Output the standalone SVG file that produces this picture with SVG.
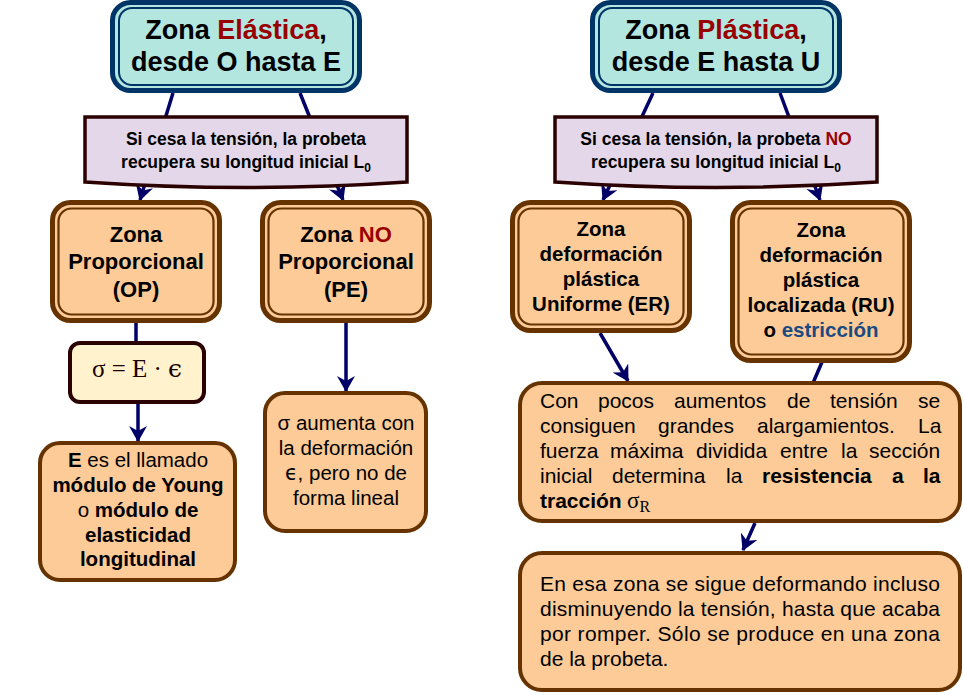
<svg xmlns="http://www.w3.org/2000/svg" width="963" height="695" viewBox="0 0 963 695">
<defs>
<style>
.t{font-family:"Liberation Sans",Arial,"DejaVu Sans",sans-serif;fill:#000}
.b{font-weight:bold}
.c{text-anchor:middle}
.red{fill:#990000}
.blu{fill:#1a4a80}
.ser{font-family:"Liberation Serif","DejaVu Serif",serif}
.eps{font-family:"DejaVu Sans",sans-serif}
.epss{font-family:"DejaVu Serif",serif}
.teal{fill:#b4e6e0;stroke:#003366;stroke-width:5}
.tealin{fill:none;stroke:#003366;stroke-width:2}
.ban{fill:#e4d7e9;stroke:#2a0000;stroke-width:3.5}
.or{fill:#fccb98;stroke:#663300;stroke-width:5}
.orin{fill:none;stroke:#663300;stroke-width:2.2}
.orb{fill:#fccb98;stroke:#663300;stroke-width:4}
.form{fill:#fff2cc;stroke:#2a0000;stroke-width:4}
.ln{stroke:#000066;stroke-width:3.5;fill:none}
</style>
<marker id="ah" markerUnits="userSpaceOnUse" markerWidth="16" markerHeight="18" viewBox="0 0 16 18" refX="15" refY="9" orient="auto">
<path d="M0,0 L16,9 L0,18 L5,9 Z" fill="#000066"/>
</marker>
</defs>

<g id="connectors">
<line class="ln" x1="173" y1="93" x2="140" y2="200" marker-end="url(#ah)"/>
<line class="ln" x1="300" y1="93" x2="343" y2="200" marker-end="url(#ah)"/>
<line class="ln" x1="653" y1="93" x2="603" y2="200" marker-end="url(#ah)"/>
<line class="ln" x1="780" y1="93" x2="820" y2="200" marker-end="url(#ah)"/>
<line class="ln" x1="136" y1="323" x2="136" y2="342"/>
<line class="ln" x1="138" y1="403" x2="138" y2="441" marker-end="url(#ah)"/>
<line class="ln" x1="346" y1="323" x2="346" y2="391" marker-end="url(#ah)"/>
<line class="ln" x1="600" y1="333" x2="628" y2="381" marker-end="url(#ah)"/>
<line class="ln" x1="822" y1="362" x2="810" y2="390"/>
<line class="ln" x1="755" y1="523" x2="743" y2="550" marker-end="url(#ah)"/>
</g>

<g id="elastica">
<rect class="teal" x="112.5" y="2.5" width="247" height="88" rx="18"/>
<rect class="tealin" x="119" y="8" width="234" height="77" rx="13"/>
<text class="t b c" x="236" y="39" font-size="27">Zona <tspan class="red">Elástica</tspan>,</text>
<text class="t b c" x="236" y="71" font-size="27">desde O hasta E</text>
</g>

<g id="plastica">
<rect class="teal" x="592.5" y="2.5" width="247" height="88" rx="18"/>
<rect class="tealin" x="599" y="8" width="234" height="77" rx="13"/>
<text class="t b c" x="716" y="39" font-size="27">Zona <tspan class="red">Plástica</tspan>,</text>
<text class="t b c" x="716" y="71" font-size="27">desde E hasta U</text>
</g>

<g id="banner-elastica">
<path class="ban" d="M85,117 H407 V182 Q246,193 85,182 Z"/>
<text class="t b c" x="246" y="145" font-size="17.5">Si cesa la tensión, la probeta</text>
<text class="t b c" x="246" y="168" font-size="17.5">recupera su longitud inicial L<tspan font-size="12" dy="4">0</tspan></text>
</g>

<g id="banner-plastica">
<path class="ban" d="M555,117 H877 V182 Q716,193 555,182 Z"/>
<text class="t b c" x="716" y="145" font-size="17.5">Si cesa la tensión, la probeta <tspan class="red">NO</tspan></text>
<text class="t b c" x="716" y="168" font-size="17.5">recupera su longitud inicial L<tspan font-size="12" dy="4">0</tspan></text>
</g>

<g id="proporcional">
<rect class="or" x="52.5" y="202.5" width="167" height="118" rx="18"/>
<rect class="orin" x="58.5" y="208.5" width="155" height="106" rx="13"/>
<text class="t b c" x="136" y="242" font-size="22">Zona</text>
<text class="t b c" x="136" y="269" font-size="22">Proporcional</text>
<text class="t b c" x="136" y="297" font-size="22">(OP)</text>
</g>

<g id="no-proporcional">
<rect class="or" x="262.5" y="202.5" width="167" height="118" rx="18"/>
<rect class="orin" x="268.5" y="208.5" width="155" height="106" rx="13"/>
<text class="t b c" x="346" y="242" font-size="22">Zona <tspan class="red">NO</tspan></text>
<text class="t b c" x="346" y="269" font-size="22">Proporcional</text>
<text class="t b c" x="346" y="297" font-size="22">(PE)</text>
</g>

<g id="uniforme">
<rect class="or" x="512.5" y="202.5" width="177" height="128" rx="18"/>
<rect class="orin" x="518.5" y="208.5" width="165" height="116" rx="13"/>
<text class="t b c" x="601" y="236" font-size="20.5">Zona</text>
<text class="t b c" x="601" y="261" font-size="20.5">deformación</text>
<text class="t b c" x="601" y="286" font-size="20.5">plástica</text>
<text class="t b c" x="601" y="311" font-size="20.5">Uniforme (ER)</text>
</g>

<g id="localizada">
<rect class="or" x="732.5" y="202.5" width="177" height="158" rx="18"/>
<rect class="orin" x="738.5" y="208.5" width="165" height="146" rx="13"/>
<text class="t b c" x="821" y="237" font-size="20.5">Zona</text>
<text class="t b c" x="821" y="262" font-size="20.5">deformación</text>
<text class="t b c" x="821" y="287" font-size="20.5">plástica</text>
<text class="t b c" x="821" y="312" font-size="20.5">localizada (RU)</text>
<text class="t b c" x="821" y="337" font-size="20.5">o <tspan class="blu">estricción</tspan></text>
</g>

<g id="formula">
<rect class="form" x="70" y="343" width="134" height="59" rx="10"/>
<text class="ser c" x="137" y="377" font-size="25" fill="#1a0000">σ = E · <tspan class="epss">ϵ</tspan></text>
</g>

<g id="young">
<rect class="orb" x="40" y="443" width="195" height="137" rx="20"/>
<text class="t c" x="138" y="467" font-size="20.5"><tspan class="b">E</tspan> es el llamado</text>
<text class="t b c" x="138" y="492" font-size="20.5">módulo de Young</text>
<text class="t c" x="138" y="517" font-size="20.5">o <tspan class="b">módulo de</tspan></text>
<text class="t b c" x="138" y="542" font-size="20.5">elasticidad</text>
<text class="t b c" x="138" y="566" font-size="20.5">longitudinal</text>
</g>

<g id="aumenta">
<rect class="orb" x="265" y="393" width="161" height="138" rx="20"/>
<text class="t c" x="346" y="430" font-size="20.5">σ aumenta con</text>
<text class="t c" x="346" y="455" font-size="20.5">la deformación</text>
<text class="t c" x="346" y="480" font-size="20.5"><tspan class="eps">ϵ</tspan>, pero no de</text>
<text class="t c" x="346" y="505" font-size="20.5">forma lineal</text>
</g>

<g id="resistencia">
<rect class="orb" x="520" y="383" width="440" height="138" rx="22"/>
<g class="t" font-size="21">
<text y="408"><tspan x="540">Con</tspan><tspan x="598">pocos</tspan><tspan x="674">aumentos</tspan><tspan x="787">de</tspan><tspan x="830">tensión</tspan><tspan x="918">se</tspan></text>
<text y="433"><tspan x="540">consiguen</tspan><tspan x="658">grandes</tspan><tspan x="757">alargamientos.</tspan><tspan x="918">La</tspan></text>
<text y="458"><tspan x="540">fuerza</tspan><tspan x="610">máxima</tspan><tspan x="696">dividida</tspan><tspan x="780">entre</tspan><tspan x="841">la</tspan><tspan x="869">sección</tspan></text>
<text y="483"><tspan x="540">inicial</tspan><tspan x="612">determina</tspan><tspan x="726">la</tspan><tspan x="762" class="b">resistencia</tspan><tspan x="892" class="b">a</tspan><tspan x="923" class="b">la</tspan></text>
<text y="508"><tspan x="540" class="b">tracción</tspan><tspan x="627" class="ser" font-size="23">σ</tspan><tspan class="ser" font-size="16" dy="4">R</tspan></text>
</g>
</g>

<g id="rotura">
<rect class="orb" x="520" y="553" width="440" height="137" rx="22"/>
<g class="t" font-size="21">
<text x="540" y="591" textLength="400" lengthAdjust="spacing">En esa zona se sigue deformando incluso</text>
<text x="540" y="616" textLength="400" lengthAdjust="spacing">disminuyendo la tensión, hasta que acaba</text>
<text x="540" y="641" textLength="400" lengthAdjust="spacing">por romper. Sólo se produce en una zona</text>
<text x="540" y="666">de la probeta.</text>
</g>
</g>
</svg>
